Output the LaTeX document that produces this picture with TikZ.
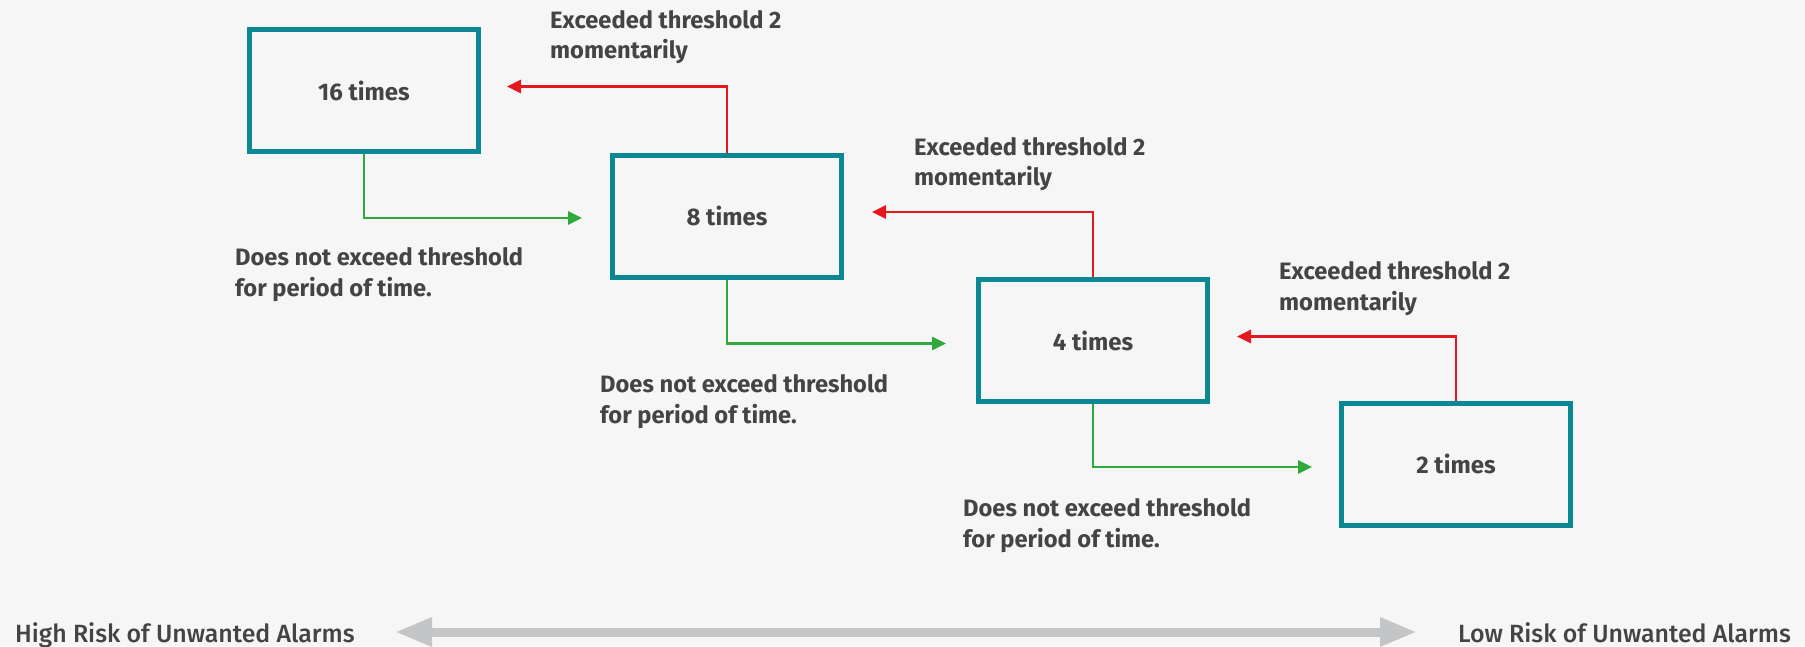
\documentclass[tikz,border=0pt]{standalone}
\usepackage{fontspec}
\setmainfont{Fira Sans}
\IfFontExistsTF{Fira Sans Medium}{\newfontfamily\medfont{Fira Sans Medium}}{\newfontfamily\medfont{Fira Sans}}
\usetikzlibrary{arrows.meta}
\definecolor{bg}{HTML}{F6F6F6}
\definecolor{teal}{HTML}{0A8994}
\definecolor{redc}{HTML}{E3191F}
\definecolor{greenc}{HTML}{2FA83C}
\definecolor{txt}{HTML}{454445}
\definecolor{grayarr}{HTML}{C4C5C6}
\tikzset{
  box/.style={draw=teal, line width=5pt, minimum width=229pt, minimum height=122pt, inner sep=0pt,
    font=\bfseries\fontsize{24}{30}\selectfont, text=txt},
  lbl/.style={anchor=base west, inner sep=0pt, font=\bfseries\fontsize{23.7}{30.5}\selectfont, text=txt},
  bot/.style={anchor=base west, inner sep=0pt, font=\medfont\fontsize{24.9}{30}\selectfont, text=txt},
  redarr/.style={draw=redc, line width=2.7pt, -{Triangle[length=14pt,width=13pt]}},
  greenarr/.style={draw=greenc, line width=2.7pt, -{Triangle[length=14pt,width=13pt]}},
  scale arrow/.style={draw=grayarr, line width=9pt, {Triangle[length=37pt,width=27pt]}-{Triangle[length=37pt,width=27pt]}}
}
\newcommand{\twoline}[2]{\begin{tabular}[t]{@{}l@{}}#1\\#2\end{tabular}}
\begin{document}
\begin{tikzpicture}[x=1pt,y=-1pt]
\fill[bg] (0,0) rectangle (1805,646);
\useasboundingbox (0,0) rectangle (1805,646);

\node[box] (b16) at (364,90.5) {16 times};
\node[box] (b8) at (727,216) {8 times};
\node[box] (b4) at (1093,340.5) {4 times};
\node[box] (b2) at (1456,464) {2 times};

\coordinate (r1) at (507,86.5);
\coordinate (r2) at (872,212);
\coordinate (r3) at (1237,336.5);
\coordinate (g1) at (582,218);
\coordinate (g2) at (946,343.5);
\coordinate (g3) at (1312,467);

\draw[redarr] (b8.north) |- (r1);
\draw[redarr] (b4.north) |- (r2);
\draw[redarr] (b2.north) |- (r3);
\draw[greenarr] (b16.south) |- (g1);
\draw[greenarr] (b8.south) |- (g2);
\draw[greenarr] (b4.south) |- (g3);

\node[lbl] (e1) at (550,28) {\twoline{Exceeded threshold 2}{momentarily}};
\node[lbl] (e2) at (914,155) {\twoline{Exceeded threshold 2}{momentarily}};
\node[lbl] (e3) at (1279,279.5) {\twoline{Exceeded threshold 2}{momentarily}};
\node[lbl] (d1) at (235,265.7) {\twoline{Does not exceed threshold}{for period of time.}};
\node[lbl] (d2) at (600,392.7) {\twoline{Does not exceed threshold}{for period of time.}};
\node[lbl] (d3) at (963,516.7) {\twoline{Does not exceed threshold}{for period of time.}};

\node[bot] (high) at (15,642) {High Risk of Unwanted Alarms};
\node[bot] (low) at (1458,642) {Low Risk of Unwanted Alarms};
\coordinate (al) at (395,632);
\coordinate (ar) at (1417,632);
\draw[scale arrow] (al) -- (ar);
\end{tikzpicture}
\end{document}
